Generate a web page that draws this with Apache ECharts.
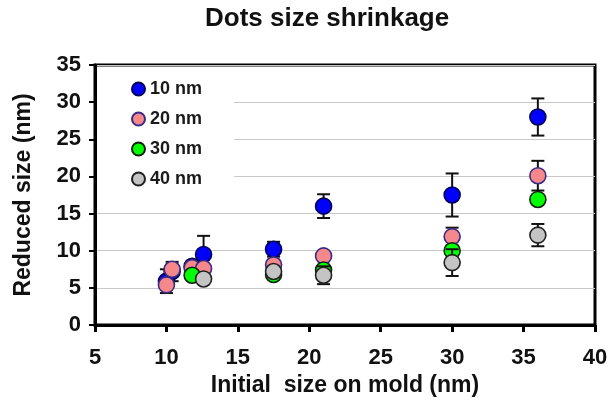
<!DOCTYPE html>
<html>
<head>
<meta charset="utf-8">
<script src="https://cdn.jsdelivr.net/npm/echarts@6/dist/echarts.min.js"></script>
<style>html,body{margin:0;padding:0;background:#fff;}#c{width:611px;height:402px;}</style>
</head>
<body>
<div id="c"></div>
<script>
const seriesNames = ['10 nm', '20 nm', '30 nm', '40 nm'];
const xTicks = [5, 10, 15, 20, 25, 30, 35, 40];
const yTicks = [0, 5, 10, 15, 20, 25, 30, 35];

const x10 = [10, 10.4, 11.8, 12.6, 17.5, 21, 30, 36];
const y10 = [5.9, 7.2, 7.9, 9.5, 10.2, 16.0, 17.5, 28.0];
const e10 = [1.6, 1.3, 0, 2.5, 1.0, 1.6, 2.9, 2.5];

const x20 = [10, 10.4, 11.8, 12.6, 17.5, 21, 30, 36];
const y20 = [5.4, 7.5, 7.7, 7.6, 8.1, 9.3, 11.9, 20.1];
const e20 = [0, 0, 0, 0, 0, 0, 1.2, 2.0];

const x30 = [11.8, 17.5, 21, 30, 36];
const y30 = [6.7, 6.8, 7.4, 10.0, 16.9];
const e30 = [0, 0, 0, 0, 0.6];

const x40 = [12.6, 17.5, 21, 30, 36];
const y40 = [6.2, 7.2, 6.7, 8.4, 12.1];
const e40 = [0, 0, 1.2, 1.8, 1.5];

const fills = ['#0000ff', '#f4888a', '#00ff00', '#c4c4c4'];
const borders = ['#000055', '#3a2a88', '#102010', '#202020'];

const groups = [[x10, y10, e10], [x20, y20, e20], [x30, y30, e30], [x40, y40, e40]];
const FONT = '"Liberation Sans", Arial, sans-serif';

const series = [];
groups.forEach(function (g, i) {
  const errData = [];
  g[0].forEach(function (x, k) { if (g[2][k] > 0) errData.push([x, g[1][k], g[2][k]]); });
  series.push({
    type: 'custom',
    name: 'err' + i,
    z: 2 + i * 2,
    silent: true,
    data: errData,
    renderItem: function (params, api) {
      const x = api.value(0), y = api.value(1), e = api.value(2);
      const hi = api.coord([x, y + e]);
      const lo = api.coord([x, y - e]);
      const w = 6.5;
      const st = { stroke: '#111', lineWidth: 2 };
      return {
        type: 'group',
        children: [
          { type: 'line', shape: { x1: hi[0], y1: hi[1], x2: lo[0], y2: lo[1] }, style: st },
          { type: 'line', shape: { x1: hi[0] - w, y1: hi[1], x2: hi[0] + w, y2: hi[1] }, style: st },
          { type: 'line', shape: { x1: lo[0] - w, y1: lo[1], x2: lo[0] + w, y2: lo[1] }, style: st }
        ]
      };
    }
  });
  series.push({
    type: 'scatter',
    name: seriesNames[i],
    z: 3 + i * 2,
    symbol: 'circle',
    symbolSize: 16,
    itemStyle: { color: fills[i], borderColor: borders[i], borderWidth: 1.6, opacity: 1 },
    data: g[0].map(function (x, k) { return [x, g[1][k]]; })
  });
});

const chart = echarts.init(document.getElementById('c'), null, { renderer: 'canvas' });
chart.setOption({
  animation: false,
  backgroundColor: '#ffffff',
  title: {
    text: 'Dots size shrinkage',
    left: 200, top: 1,
    textStyle: { fontFamily: FONT, fontWeight: 'bold', fontSize: 26, color: '#111' }
  },
  legend: {
    data: seriesNames,
    orient: 'vertical',
    left: 97, top: 68,
    padding: [12, 32, 8, 34],
    backgroundColor: '#ffffff',
    itemWidth: 13, itemHeight: 13, itemGap: 12,
    icon: 'circle',
    textStyle: { fontFamily: FONT, fontWeight: 'bold', fontSize: 18, color: '#1a1a1a', lineHeight: 18 }
  },
  grid: {
    left: 95, right: 16, top: 65, bottom: 77,
    show: true, borderColor: '#000', borderWidth: 3, backgroundColor: 'transparent'
  },
  xAxis: {
    type: 'value', min: xTicks[0], max: xTicks[xTicks.length - 1], interval: 5,
    name: 'Initial  size on mold (nm)', nameLocation: 'middle', nameGap: 44,
    nameTextStyle: { fontFamily: FONT, fontWeight: 'bold', fontSize: 23, color: '#111' },
    axisLine: { show: true, lineStyle: { color: '#000', width: 3 } },
    axisTick: { show: true, inside: false, length: 7, lineStyle: { color: '#000', width: 3 } },
    axisLabel: { margin: 22, fontFamily: FONT, fontWeight: 'bold', fontSize: 22, color: '#111' },
    splitLine: { show: false }
  },
  yAxis: {
    type: 'value', min: yTicks[0], max: yTicks[yTicks.length - 1], interval: 5,
    name: 'Reduced size (nm)', nameLocation: 'middle', nameGap: 60,
    nameTextStyle: { fontFamily: FONT, fontWeight: 'bold', fontSize: 23, color: '#111' },
    axisLine: { show: true, lineStyle: { color: '#000', width: 3 } },
    axisTick: { show: true, inside: false, length: 6, lineStyle: { color: '#000', width: 2 } },
    axisLabel: { margin: 14, fontFamily: FONT, fontWeight: 'bold', fontSize: 22, color: '#111' },
    splitLine: { show: true, lineStyle: { color: '#c8c8c8', width: 1 } }
  },
  series: series
});
</script>
</body>
</html>
